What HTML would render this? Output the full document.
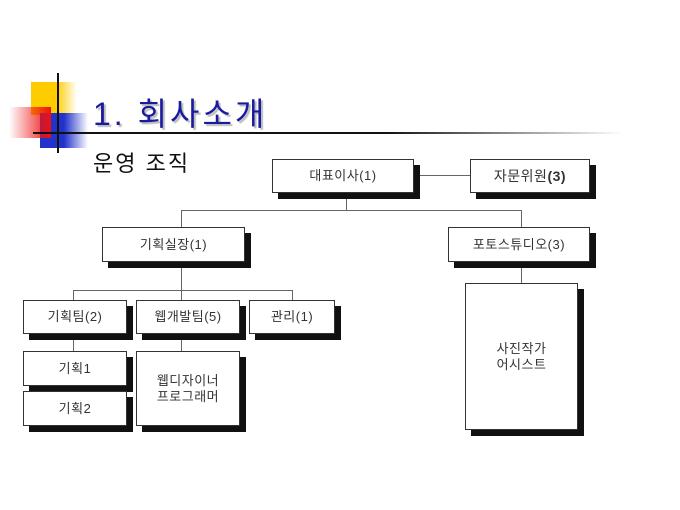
<!DOCTYPE html>
<html><head><meta charset="utf-8"><style>
body{margin:0;width:680px;height:510px;background:#fff;position:relative;overflow:hidden;font-family:"Liberation Sans","Noto Sans CJK KR",sans-serif}
.a{position:absolute}
.b{position:absolute;background:#fff;border:1px solid #333;box-shadow:6px 6px 0 #111;display:flex;align-items:center;justify-content:center;text-align:center;font-size:13px;color:#333;box-sizing:border-box;line-height:16px;letter-spacing:0.5px}
.l{position:absolute;background:#666}
</style></head><body>
<div class="a" style="left:31px;top:82px;width:46px;height:33px;background:linear-gradient(to right,#ffcc00 55%,rgba(255,220,80,0))"></div>
<div class="a" style="left:40px;top:113px;width:48px;height:35px;background:linear-gradient(to right,#2233cc 50%,rgba(60,80,220,0))"></div>
<div class="a" style="left:9px;top:107px;width:42px;height:31px;background:linear-gradient(to right,rgba(255,255,255,0),#ee1111)"></div>
<div class="a" style="left:57px;top:73px;width:2px;height:80px;background:#111"></div>
<div class="a" style="left:33px;top:132px;width:590px;height:2px;background:linear-gradient(to right,#111 60%,#fff)"></div>
<div class="a" style="left:93px;top:89px;font-size:32px;letter-spacing:3px;color:#1a1aa0;text-shadow:2px 2px 1px #bbb;white-space:nowrap">1. 회사소개</div>
<div class="a" style="left:93px;top:146px;font-size:22px;letter-spacing:2px;color:#111;white-space:nowrap">운영 조직</div>

<div class="l" style="left:414px;top:175px;width:56px;height:1px"></div>
<div class="l" style="left:346px;top:192px;width:1px;height:18px"></div>
<div class="l" style="left:181px;top:210px;width:340px;height:1px"></div>
<div class="l" style="left:181px;top:210px;width:1px;height:17px"></div>
<div class="l" style="left:521px;top:210px;width:1px;height:17px"></div>
<div class="l" style="left:521px;top:262px;width:1px;height:21px"></div>
<div class="l" style="left:181px;top:262px;width:1px;height:28px"></div>
<div class="l" style="left:73px;top:290px;width:220px;height:1px"></div>
<div class="l" style="left:73px;top:290px;width:1px;height:10px"></div>
<div class="l" style="left:181px;top:290px;width:1px;height:10px"></div>
<div class="l" style="left:292px;top:290px;width:1px;height:10px"></div>
<div class="l" style="left:73px;top:334px;width:1px;height:17px"></div>
<div class="l" style="left:181px;top:334px;width:1px;height:17px"></div>

<div class="b" style="left:272px;top:159px;width:142px;height:34px">대표이사(1)</div>
<div class="b" style="left:470px;top:159px;width:120px;height:34px;font-size:14px">자문위원<b>(3)</b></div>
<div class="b" style="left:102px;top:227px;width:143px;height:35px">기획실장(1)</div>
<div class="b" style="left:448px;top:227px;width:142px;height:35px">포토스튜디오(3)</div>
<div class="b" style="left:23px;top:300px;width:104px;height:34px">기획팀(2)</div>
<div class="b" style="left:136px;top:300px;width:104px;height:34px">웹개발팀(5)</div>
<div class="b" style="left:249px;top:300px;width:86px;height:34px">관리(1)</div>
<div class="b" style="left:23px;top:351px;width:104px;height:35px">기획1</div>
<div class="b" style="left:23px;top:391px;width:104px;height:35px">기획2</div>
<div class="b" style="left:136px;top:351px;width:104px;height:75px">웹디자이너<br>프로그래머</div>
<div class="b" style="left:465px;top:283px;width:113px;height:147px">사진작가<br>어시스트</div>
</body></html>
